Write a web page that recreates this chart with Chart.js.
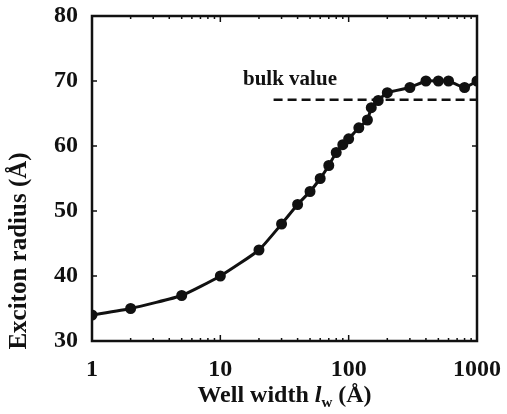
<!DOCTYPE html>
<html>
<head>
<meta charset="utf-8">
<script src="https://cdn.jsdelivr.net/npm/chart.js@4/dist/chart.umd.min.js"></script>
<style>
  html, body { margin: 0; padding: 0; background: #fff; }
</style>
</head>
<body>
<canvas id="grafica" width="507" height="414"></canvas>
<script>
// datos
const anchoPozo = [1, 2, 5, 10, 20, 30, 40, 50, 60, 70, 80, 90, 100, 120, 140, 150, 170, 200, 300, 400, 500, 600, 800, 1000];
const radioExciton = [34, 35, 37, 40, 44, 48, 51, 53, 55, 57, 59, 60.2, 61.1, 62.8, 64, 65.9, 67, 68.2, 69, 70, 70, 70, 69, 70];
const bulkX = [26, 1000];
const bulkValor = 67.1;
const ticksX = [1, 10, 100, 1000];
const ticksY = [30, 40, 50, 60, 70, 80];

const fuente = "'Liberation Serif', 'Times New Roman', serif";

// quitar el relleno automatico que agrega Chart.js por las etiquetas
function sinRelleno(s) {
  s.paddingTop = 0;
  s.paddingBottom = 0;
  s.paddingLeft = 0;
  s.paddingRight = 0;
}

// marco, marcas interiores y textos
const marcoPlugin = {
  id: 'marco',
  afterDraw(chart) {
    const { ctx, chartArea: a, scales } = chart;
    const sx = scales.x, sy = scales.y;
    ctx.save();
    ctx.strokeStyle = '#111';
    ctx.lineWidth = 1.5;
    ticksY.forEach(v => {
      const y = sy.getPixelForValue(v);
      ctx.beginPath();
      ctx.moveTo(a.left, y); ctx.lineTo(a.left + 5, y);
      ctx.moveTo(a.right, y); ctx.lineTo(a.right - 5, y);
      ctx.stroke();
    });
    for (let d = 1; d < 1000; d *= 10) {
      for (let k = 1; k <= 9; k++) {
        const x = sx.getPixelForValue(d * k);
        const len = k === 1 ? 6 : 3;
        ctx.beginPath();
        ctx.moveTo(x, a.bottom); ctx.lineTo(x, a.bottom - len);
        ctx.moveTo(x, a.top); ctx.lineTo(x, a.top + len);
        ctx.stroke();
      }
    }
    ctx.lineWidth = 2.5;
    ctx.strokeRect(a.left, a.top, a.right - a.left, a.bottom - a.top);

    ctx.fillStyle = '#111';

    // texto "bulk value"
    ctx.font = 'bold 21px ' + fuente;
    ctx.textBaseline = 'alphabetic';
    ctx.textAlign = 'left';
    ctx.fillText('bulk value', 243, 85);

    // titulo eje y
    ctx.save();
    ctx.translate(20, 251);
    ctx.rotate(-Math.PI / 2);
    ctx.textAlign = 'center';
    ctx.textBaseline = 'middle';
    ctx.font = 'bold 25px ' + fuente;
    ctx.fillText('Exciton radius (Å)', 0, 0);
    ctx.restore();

    // titulo eje x con l cursiva y subindice w
    const yb = 402;
    const partes = [
      ['Well width ', 'bold 24px ', 0],
      ['l', 'italic bold 24px ', 0],
      ['w', 'bold 15px ', 5],
      [' (Å)', 'bold 24px ', 0]
    ];
    let total = 0;
    partes.forEach(p => { ctx.font = p[1] + fuente; total += ctx.measureText(p[0]).width; });
    let x = (a.left + a.right) / 2 - total / 2;
    partes.forEach(p => {
      ctx.font = p[1] + fuente;
      ctx.fillText(p[0], x, yb + p[2]);
      x += ctx.measureText(p[0]).width;
    });
    ctx.restore();
  }
};

new Chart(document.getElementById('grafica'), {
  type: 'line',
  data: {
    datasets: [
      {
        data: anchoPozo.map((w, i) => ({ x: w, y: radioExciton[i] })),
        borderColor: '#111',
        backgroundColor: '#111',
        borderWidth: 3,
        pointRadius: 4,
        pointHoverRadius: 4,
        tension: 0.15
      },
      {
        data: bulkX.map(w => ({ x: w, y: bulkValor })),
        borderColor: '#111',
        borderWidth: 2.5,
        borderDash: [9, 5],
        pointRadius: 0
      }
    ]
  },
  options: {
    responsive: false,
    animation: false,
    layout: { padding: { left: 0, right: 30, top: 16, bottom: 0 } },
    plugins: { legend: { display: false }, tooltip: { enabled: false } },
    scales: {
      x: {
        type: 'logarithmic',
        min: 1,
        max: 1000,
        afterBuildTicks: s => { s.ticks = ticksX.map(v => ({ value: v })); },
        afterFit: s => { s.height = 73; sinRelleno(s); },
        grid: { display: false, drawTicks: false },
        border: { display: false },
        ticks: {
          color: '#111',
          padding: 14,
          maxRotation: 0,
          autoSkip: false,
          font: { family: fuente, size: 24, weight: 'bold' },
          callback: v => String(v)
        }
      },
      y: {
        min: 30,
        max: 80,
        afterBuildTicks: s => { s.ticks = ticksY.map(v => ({ value: v })); },
        afterFit: s => { s.width = 92; sinRelleno(s); },
        grid: { display: false, drawTicks: false },
        border: { display: false },
        ticks: {
          color: '#111',
          padding: 14,
          font: { family: fuente, size: 24, weight: 'bold' }
        }
      }
    }
  },
  plugins: [marcoPlugin]
});
</script>
</body>
</html>
